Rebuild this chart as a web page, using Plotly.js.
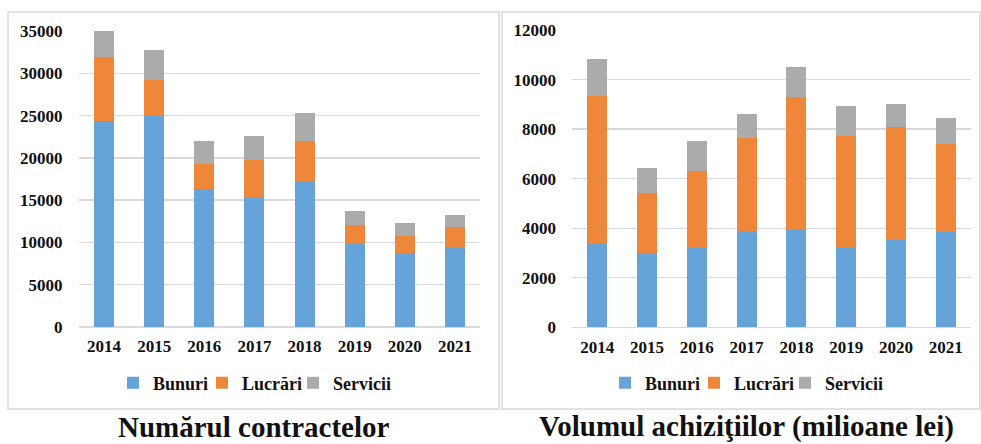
<!DOCTYPE html>
<html>
<head>
<meta charset="utf-8">
<script src="https://cdn.plot.ly/plotly-3.0.1.min.js"></script>
<style>html,body{margin:0;padding:0;background:#fff}#chart{width:981px;height:444px}</style>
</head>
<body>
<div id="chart"></div>
<script>
const years = ["2014","2015","2016","2017","2018","2019","2020","2021"];
const seriesNames = ["Bunuri","Lucrări","Servicii"];
// Numărul contractelor
const contractsBunuri   = [24300, 24900, 16300, 15350, 17150, 9800, 8750, 9450];
const contractsLucrari  = [7650, 4350, 3000, 4350, 4800, 2250, 2000, 2350];
const contractsServicii = [3100, 3450, 2750, 2900, 3300, 1700, 1600, 1500];
// Volumul achiziţiilor (milioane lei)
const volumeBunuri   = [3360, 2990, 3230, 3880, 3940, 3230, 3540, 3850];
const volumeLucrari  = [5960, 2430, 3070, 3760, 5340, 4490, 4550, 3550];
const volumeServicii = [1510, 1020, 1210, 960, 1210, 1210, 940, 1040];
const leftTitle = "Numărul contractelor";
const rightTitle = "Volumul achiziţiilor (milioane lei)";

const colors = ["#65A3D8", "#EE8739", "#ABABAB"];
const W = 981, H = 444;
const px = v => v / W;
const py = v => 1 - v / H;

const fontFam = "Times New Roman, Liberation Serif, serif";
const leftData = [contractsBunuri, contractsLucrari, contractsServicii];
const rightData = [volumeBunuri, volumeLucrari, volumeServicii];

const traces = [];
leftData.forEach((vals, i) => traces.push({
  type: "bar", x: years, y: vals, name: seriesNames[i],
  marker: {color: colors[i], line: {width: 0}},
  xaxis: "x", yaxis: "y", legend: i === 0 ? "legend" : "legend" + (i + 1)
}));
rightData.forEach((vals, i) => traces.push({
  type: "bar", x: years, y: vals, name: seriesNames[i],
  marker: {color: colors[i], line: {width: 0}},
  xaxis: "x2", yaxis: "y2", legend: "legend" + (i + 4)
}));

const tickFont = {family: fontFam, size: 17, color: "#111", weight: "bold"};
const gridColor = "#D9D9D9";

const xCommon = {
  type: "category", range: [-0.5, 7.5], tickfont: tickFont,
  showgrid: false, zeroline: false, showline: false,
  ticks: "outside", ticklen: 4, tickcolor: "rgba(0,0,0,0)", fixedrange: true
};
const yCommon = {
  tickfont: tickFont, tickformat: "d", showgrid: true, gridcolor: gridColor, gridwidth: 1.3,
  zeroline: true, zerolinecolor: gridColor, zerolinewidth: 1.5,
  showline: false, ticks: "outside", ticklen: 12, tickcolor: "rgba(0,0,0,0)",
  fixedrange: true
};

const legendCommon = {
  orientation: "h", xanchor: "left", yanchor: "middle",
  font: {family: fontFam, size: 18, color: "#111", weight: "bold"},
  bgcolor: "rgba(0,0,0,0)", itemclick: false, itemdoubleclick: false
};
// legend text left edges (px) for each entry
const legendTextX = [153, 242, 333, 645, 734, 825];
const legendY = 383;

const layout = {
  width: W, height: H,
  margin: {l: 0, r: 0, t: 0, b: 0},
  paper_bgcolor: "#fff", plot_bgcolor: "rgba(0,0,0,0)",
  barmode: "stack", bargap: 0.6,
  showlegend: true,
  xaxis: Object.assign({}, xCommon, {domain: [px(79), px(480)], anchor: "y"}),
  yaxis: Object.assign({}, yCommon, {domain: [py(327), py(31)], range: [0, 35000], dtick: 5000, anchor: "x"}),
  xaxis2: Object.assign({}, xCommon, {domain: [px(572.3), px(970.7)], anchor: "y2"}),
  yaxis2: Object.assign({}, yCommon, {domain: [py(327.3), py(30)], range: [0, 12000], dtick: 2000, anchor: "x2"}),
  shapes: [
    {type: "rect", xref: "paper", yref: "paper", x0: px(8), x1: px(499), y0: py(409), y1: py(12),
     line: {color: "#D9D9D9", width: 1.5}},
    {type: "rect", xref: "paper", yref: "paper", x0: px(502), x1: px(980), y0: py(409), y1: py(12),
     line: {color: "#D9D9D9", width: 1.5}}
  ],
  annotations: [
    {text: leftTitle, xref: "paper", yref: "paper", x: px(254), y: py(444), xanchor: "center", yanchor: "bottom",
     borderpad: 0, showarrow: false, font: {family: fontFam, size: 29, color: "#111", weight: "bold"}},
    {text: rightTitle, xref: "paper", yref: "paper", x: px(746), y: py(444), xanchor: "center", yanchor: "bottom",
     borderpad: 0, showarrow: false, font: {family: fontFam, size: 29, color: "#111", weight: "bold"}}
  ]
};
legendTextX.forEach((tx, i) => {
  const key = i === 0 ? "legend" : "legend" + (i + 1);
  layout[key] = Object.assign({}, legendCommon, {x: px(tx - 40), y: py(legendY)});
});

Plotly.newPlot("chart", traces, layout, {displayModeBar: false, staticPlot: true});
</script>
</body>
</html>
